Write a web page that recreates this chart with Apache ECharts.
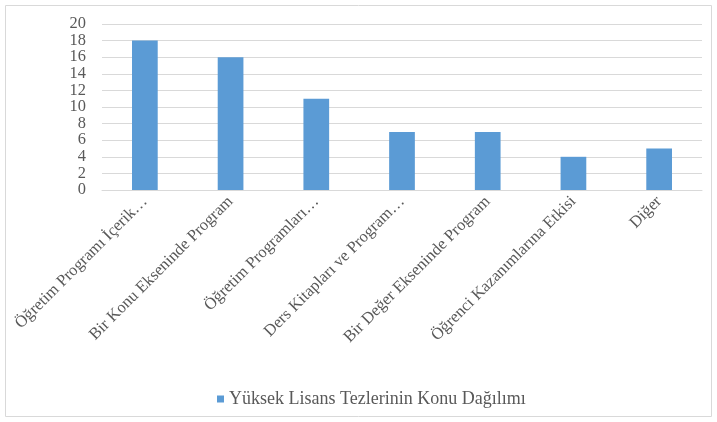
<!DOCTYPE html>
<html>
<head>
<meta charset="utf-8">
<script src="https://cdn.jsdelivr.net/npm/echarts@6/dist/echarts.min.js"></script>
<style>
  html, body { margin: 0; padding: 0; background: #fff; }
  #chart { width: 717px; height: 422px; }
</style>
</head>
<body>
<div id="chart"></div>
<script>
// categories as shown on the axis (Excel truncates the long ones)
const categories = [
    'Öğretim Programı İçerik…',
    'Bir Konu Ekseninde Program',
    'Öğretim Programları…',
    'Ders Kitapları ve Program…',
    'Bir Değer Ekseninde Program',
    'Öğrenci Kazanımlarına Etkisi',
    'Diğer'
];
const counts = [18, 16, 11, 7, 7, 4, 5];
const seriesName = 'Yüksek Lisans Tezlerinin Konu Dağılımı';
const yTicks = { min: 0, max: 20, step: 2 };

const chart = echarts.init(document.getElementById('chart'), null, { renderer: 'canvas' });
const font = '"Liberation Serif", "Times New Roman", serif';

chart.setOption({
    animation: false,
    textStyle: { fontFamily: font },
    graphic: [{
        type: 'rect',
        shape: { x: 5.5, y: 5.5, width: 706, height: 411 },
        style: { fill: 'none', stroke: '#d9d9d9', lineWidth: 1 },
        silent: true
    }],
    grid: {
        left: 102,
        right: 15,
        top: 24,
        bottom: 232
    },
    legend: {
        top: 385,
        left: 212,
        itemWidth: 7,
        itemHeight: 7,
        itemGap: 7,
        icon: 'rect',
        textStyle: { fontFamily: font, fontSize: 18, color: '#595959' },
        data: [seriesName]
    },
    xAxis: {
        type: 'category',
        data: categories,
        axisLine: { lineStyle: { color: '#d9d9d9', width: 1 } },
        axisTick: { show: false },
        axisLabel: {
            interval: 0,
            rotate: 45,
            margin: 9,
            fontFamily: font,
            fontSize: 16.5,
            color: '#595959'
        }
    },
    yAxis: {
        type: 'value',
        min: yTicks.min,
        max: yTicks.max,
        interval: yTicks.step,
        axisLine: { show: false },
        axisTick: { show: false },
        splitLine: { lineStyle: { color: '#d9d9d9', width: 1 } },
        axisLabel: {
            margin: 16,
            fontFamily: font,
            fontSize: 16.4,
            color: '#595959'
        }
    },
    series: [{
        name: seriesName,
        type: 'bar',
        data: counts,
        barWidth: '30%',
        itemStyle: { color: '#5b9bd5' }
    }]
});
</script>
</body>
</html>
